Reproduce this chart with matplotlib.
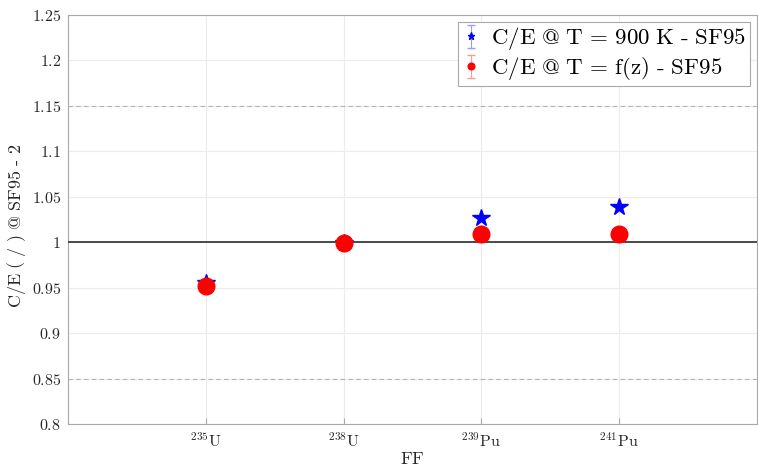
import matplotlib
matplotlib.use("Agg")
import matplotlib.pyplot as plt
from matplotlib.ticker import FuncFormatter, FixedLocator

plt.rcParams['mathtext.fontset'] = 'cm'
plt.rcParams['font.family'] = ['cmr10', 'DejaVu Serif']
plt.rcParams['axes.formatter.use_mathtext'] = True

categories = [r'$^{235}\mathrm{U}$', r'$^{238}\mathrm{U}$', r'$^{239}\mathrm{Pu}$', r'$^{241}\mathrm{Pu}$']
ce_900K = [0.955, 0.999, 1.027, 1.039]
ce_fz = [0.952, 0.999, 1.009, 1.009]
err_900K = [0.001, 0.001, 0.001, 0.001]
err_fz = [0.001, 0.001, 0.001, 0.001]
yticks = [0.8, 0.85, 0.9, 0.95, 1.0, 1.05, 1.1, 1.15, 1.2, 1.25]

fig = plt.figure(figsize=(7.58, 4.67), dpi=100)
ax = fig.add_axes([68/758, 1 - 424/467, (757-68)/758, (424-15)/467])

x = list(range(1, len(categories) + 1))

ax.errorbar(x, ce_900K, yerr=err_900K, fmt='*', color='blue', markersize=13,
            ecolor=(0.6, 0.6, 1.0), capsize=3, elinewidth=0.8, linestyle='none',
            label=r'$\mathrm{C/E\ @\ T\,=\,900\ K\ \text{-}\ SF95}$', zorder=4)
ax.errorbar(x, ce_fz, yerr=err_fz, fmt='o', color='red', markersize=12,
            ecolor=(1.0, 0.6, 0.6), capsize=3, elinewidth=0.8, linestyle='none',
            label=r'$\mathrm{C/E\ @\ T\,=\,f(z)\ \text{-}\ SF95}$', zorder=5)

ax.axhline(1.0, color='#3c3c3c', linewidth=1.3, zorder=3)
for yv in [0.85, 1.15]:
    ax.axhline(yv, color='#b4b4b4', linewidth=0.8, linestyle=(0, (4, 3)), zorder=2)

ax.set_xlim(0, 5)
ax.set_ylim(0.8, 1.25)
ax.xaxis.set_major_locator(FixedLocator(x))
ax.set_xticklabels(categories)
ax.yaxis.set_major_locator(FixedLocator(yticks))
ax.yaxis.set_major_formatter(FuncFormatter(lambda v, p: f'${v:g}$'))

ax.grid(True, color='#ececec', linewidth=0.8, zorder=0)
ax.set_axisbelow(True)
for s in ax.spines.values():
    s.set_color('#a8a8a8')
    s.set_linewidth(0.8)
ax.tick_params(direction='in', length=4, color='#a8a8a8', labelsize=11.5,
               labelcolor='#262626', pad=5)
ax.tick_params(axis='y', length=0)

ax.set_xlabel(r'$\mathrm{FF}$', fontsize=13, color='#262626', labelpad=1)
ax.set_ylabel(r'$\mathrm{C/E\ (\ /\ )\ @\ SF95\ \text{-}\ 2}$', fontsize=13, color='#262626')
ax.yaxis.set_label_coords(-0.058, 0.484)

leg = ax.legend(loc='upper right', fontsize=16.5, markerscale=0.4, handlelength=0.8,
                handletextpad=0.5, borderpad=0.15, labelspacing=0.12,
                fancybox=False, framealpha=1, edgecolor='#a8a8a8', borderaxespad=0.3)
leg.get_frame().set_linewidth(0.8)

fig.savefig('out.png', dpi=100)
